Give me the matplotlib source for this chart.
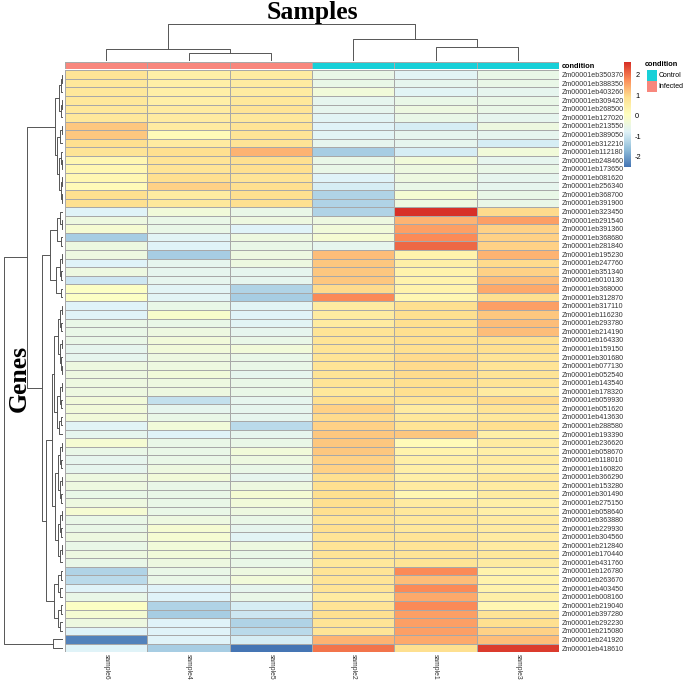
import matplotlib
matplotlib.use("Agg")
import matplotlib.pyplot as plt
import numpy as np
from matplotlib.colors import LinearSegmentedColormap, ListedColormap
from matplotlib.patches import Rectangle

W, H = 685, 683

samples = ["sample6", "sample4", "sample5", "sample2", "sample1", "sample3"]
condition = ["Infected", "Infected", "Infected", "Control", "Control", "Control"]
cond_levels = ["Control", "Infected"]
cond_colors = ["#17D0D8", "#F8877D"]

genes = [
    "Zm00001eb350370", "Zm00001eb388350", "Zm00001eb403260", "Zm00001eb309420",
    "Zm00001eb268500", "Zm00001eb127020", "Zm00001eb213550", "Zm00001eb389050",
    "Zm00001eb312210", "Zm00001eb112180", "Zm00001eb248460", "Zm00001eb173650",
    "Zm00001eb081620", "Zm00001eb256340", "Zm00001eb368700", "Zm00001eb391900",
    "Zm00001eb323450", "Zm00001eb291540", "Zm00001eb391360", "Zm00001eb368680",
    "Zm00001eb281840", "Zm00001eb195230", "Zm00001eb247760", "Zm00001eb351340",
    "Zm00001eb010130", "Zm00001eb368000", "Zm00001eb312870", "Zm00001eb317110",
    "Zm00001eb116230", "Zm00001eb293780", "Zm00001eb214190", "Zm00001eb164330",
    "Zm00001eb159150", "Zm00001eb301680", "Zm00001eb077130", "Zm00001eb052540",
    "Zm00001eb143540", "Zm00001eb178320", "Zm00001eb059930", "Zm00001eb051620",
    "Zm00001eb413630", "Zm00001eb288580", "Zm00001eb193390", "Zm00001eb236620",
    "Zm00001eb058670", "Zm00001eb118010", "Zm00001eb160820", "Zm00001eb366290",
    "Zm00001eb153280", "Zm00001eb301490", "Zm00001eb275150", "Zm00001eb058640",
    "Zm00001eb363880", "Zm00001eb229930", "Zm00001eb304560", "Zm00001eb212840",
    "Zm00001eb170440", "Zm00001eb431760", "Zm00001eb126780", "Zm00001eb263670",
    "Zm00001eb403450", "Zm00001eb008160", "Zm00001eb219040", "Zm00001eb397280",
    "Zm00001eb292230", "Zm00001eb215080", "Zm00001eb241920", "Zm00001eb418610",
]

# row-scaled expression, one list per sample (column order as displayed)
sample6 = [0.8, 0.7, 0.7, 0.7, 0.7, 0.7, 1.2, 1.2, 0.9, 0.8,
           0.3, 0.3, 0.3, 0.2, 0.9, 0.9, -0.8, -0.4, -0.2, -1.4,
           -0.4, -0.4, -0.8, -0.4, -1.0, 0.0, 0.0, -0.8, -0.8, -0.5,
           -0.5, -0.5, -0.6, -0.6, -0.4, -0.4, -0.4, -0.4, -0.3, -0.3,
           -0.3, -0.7, -0.6, -0.2, -0.5, -0.6, -0.6, -0.4, -0.4, -0.5,
           -0.4, -0.2, -0.5, -0.5, -0.4, -0.5, -0.4, -0.5, -1.3, -1.2,
           -0.8, -0.5, 0.0, -0.2, -0.4, -0.8, -2.3, -0.8]
sample4 = [0.5, 0.5, 0.5, 0.5, 0.6, 0.6, 0.6, 0.2, 0.6, 0.9,
           0.8, 0.8, 0.9, 1.1, 0.6, 0.7, -0.3, -0.5, -0.5, -0.7,
           -0.8, -1.4, -0.6, -0.6, -0.6, -0.7, -0.7, -0.5, -0.1, -0.5,
           -0.4, -0.3, -0.3, -0.4, -0.4, -0.3, -0.4, -0.4, -1.1, -0.6,
           -0.5, -0.3, -0.8, -0.5, -0.5, -0.5, -0.4, -0.3, -0.5, -0.5,
           -0.5, -0.5, -0.4, -0.2, -0.2, -0.3, -0.3, -0.4, -0.5, -0.5,
           -0.8, -0.8, -1.3, -1.4, -0.8, -0.8, -0.8, -1.4]
sample5 = [0.6, 0.6, 0.6, 0.7, 0.8, 0.7, 0.8, 0.8, 0.8, 1.4,
           0.9, 0.9, 0.8, 0.9, 0.9, 0.9, -0.5, -0.4, -0.8, -0.4,
           -0.5, -0.4, -0.4, -0.6, -0.6, -1.3, -1.4, -0.7, -0.8, -0.7,
           -0.6, -0.5, -0.3, -0.5, -0.5, -0.6, -0.5, -0.5, -0.6, -0.6,
           -0.6, -1.2, -0.6, -0.5, -0.3, -0.4, -0.5, -0.6, -0.4, -0.2,
           -0.3, -0.4, -0.5, -0.6, -0.7, -0.4, -0.5, -0.5, -0.4, -0.3,
           -0.6, -0.5, -0.9, -1.0, -1.3, -1.2, -0.9, -2.5]
sample2 = [-0.5, -0.5, -0.3, -0.6, -0.6, -0.7, -0.8, -0.7, -0.6, -1.4,
           -0.5, -0.5, -0.8, -0.9, -1.3, -1.3, -1.3, -0.4, -0.3, -0.2,
           -0.6, 1.3, 1.2, 1.2, 1.2, 1.0, 1.8, 0.6, 0.6, 0.6,
           0.8, 0.8, 0.8, 0.8, 0.8, 0.8, 0.8, 0.7, 0.9, 1.1,
           1.0, 1.1, 1.2, 1.2, 1.2, 1.1, 1.1, 0.9, 0.9, 0.9,
           0.9, 0.9, 0.8, 0.9, 0.8, 0.8, 0.8, 0.7, 0.8, 0.8,
           0.8, 0.6, 0.8, 0.9, 0.8, 0.8, 1.4, 2.0]
sample1 = [-0.7, -0.6, -0.7, -0.5, -0.4, -0.5, -0.9, -0.6, -0.6, -0.9,
           -0.3, -0.4, -0.4, -0.5, -0.2, -0.4, 2.65, 1.4, 1.6, 1.8,
           2.1, 0.4, 0.5, 0.4, 0.4, 0.4, 0.3, 0.9, 0.9, 0.9,
           0.9, 0.9, 0.9, 1.0, 1.0, 1.0, 0.9, 0.9, 0.8, 0.6,
           0.7, 0.8, 1.2, 0.2, 0.4, 0.5, 0.5, 0.5, 0.6, 0.3,
           0.6, 0.7, 0.7, 0.7, 0.8, 0.8, 0.8, 0.8, 1.8, 1.3,
           1.8, 1.5, 1.8, 1.6, 1.6, 1.6, 1.5, 0.9]
sample3 = [-0.5, -0.5, -0.6, -0.5, -0.5, -0.6, -0.4, -0.6, -0.9, -0.3,
           -0.6, -0.5, -0.6, -0.6, -0.5, -0.5, 1.0, 1.6, 1.1, 1.1,
           1.1, 1.4, 1.0, 1.1, 1.3, 1.5, 0.9, 1.6, 1.2, 1.3,
           1.3, 0.9, 0.9, 0.8, 0.8, 0.8, 0.8, 0.6, 1.0, 0.8,
           0.7, 0.9, 0.5, 0.6, 0.5, 0.6, 0.5, 0.7, 0.6, 0.6,
           0.5, 0.5, 0.6, 0.6, 0.6, 0.6, 0.7, 0.6, 0.4, 0.4,
           0.4, 0.5, 0.3, 0.8, 0.9, 1.1, 1.3, 2.5]

# dendrograms: (height, left, right), leaves are positions in display order
col_tree = (37.3, (12.3, 0, (8, 1, 2)), (22, 3, (14, 4, 5)))
row_tree = (59,
    (36,
        (8,
            (4, (2, (1, 0, 1), 2), (2.5, (1.2, 3, 4), 5)),
            (6, (3, (1.5, 6, 7), 8),
                (4, (2, 9, (1, 10, 11)), (2.5, (1.2, 12, 13), (1, 14, 15))))),
        (21,
            (13,
                (6, (3, 16, (1.5, 17, 18)), (2.5, 19, 20)),
                (7, (3, (1.5, 21, 22), (2, 23, 24)), (2.5, 25, 26))),
            (17,
                (11,
                    (9, (5, (3, (1.5, 27, 28), (2, 29, 30)),
                            (3.5, (1.5, 31, 32), (2, 33, (1, 34, 35)))),
                        (6, (3, (1.5, 36, 37), (2, 38, 39)), (4, (2, 40, 41), 42))),
                    (8, (5, (3, (1.5, 43, 44), (2, 45, 46)), (3, (1.2, 47, 48), (2, 49, 50))),
                        (5.5, (3, (1.5, 51, 52), (2, 53, 54)), (3.5, (1.5, 55, 56), 57)))),
                (9, (5, (2, 58, 59), (3, 60, 61)), (5.5, (2.5, 62, 63), (3, 64, 65)))))),
    (10, 66, 67))

vmin, vmax = -2.5, 2.65
cmap = LinearSegmentedColormap.from_list(
    "rdylbu", ["#4575B4", "#91BFDB", "#E0F3F8", "#FFFFBF", "#FEE090", "#FC8D59", "#D73027"], N=100)
border = "#A8A8A8"
line_col = "#555555"
lab_font = "Liberation Sans"
title_font = "Liberation Serif"

values = np.array([sample6, sample4, sample5, sample2, sample1, sample3]).T
n_rows, n_cols = values.shape

fig = plt.figure(figsize=(W / 100, H / 100), dpi=100)


def px_axes(x0, y0, x1, y1):
    return fig.add_axes([x0 / W, 1 - y1 / H, (x1 - x0) / W, (y1 - y0) / H])


def draw_tree(ax, node, vertical):
    if not isinstance(node, tuple):
        return node + 0.5, 0
    h, a, b = node
    pa, ha = draw_tree(ax, a, vertical)
    pb, hb = draw_tree(ax, b, vertical)
    xs, ys = [pa, pa, pb, pb], [ha, h, h, hb]
    if vertical:
        ax.plot(xs, ys, color=line_col, lw=0.7)
    else:
        ax.plot(ys, xs, color=line_col, lw=0.7)
    return (pa + pb) / 2, h


# heatmap
hx0, hx1, hy0, hy1 = 65, 559, 70.3, 652.3
ax = px_axes(hx0, hy0, hx1, hy1)
ax.pcolormesh(values, cmap=cmap, vmin=vmin, vmax=vmax, edgecolors=border, linewidth=0.5)
ax.set_xlim(0, n_cols)
ax.set_ylim(n_rows, 0)
ax.yaxis.tick_right()
ax.set_yticks(np.arange(n_rows) + 0.5)
ax.set_yticklabels(genes, fontsize=5.1, family=lab_font, color="#333333")
ax.set_xticks(np.arange(n_cols) + 0.5)
ax.set_xticklabels(samples, fontsize=4.9, family=lab_font, rotation=270, color="#333333")
ax.tick_params(axis="y", length=0, pad=2)
ax.tick_params(axis="x", length=0, pad=1)
for s in ax.spines.values():
    s.set_visible(False)

# annotation bar
ax_ann = px_axes(hx0, 62.3, hx1, 69.3)
cond_idx = np.array([[cond_levels.index(c) for c in condition]])
ax_ann.pcolormesh(cond_idx, cmap=ListedColormap(cond_colors), vmin=0, vmax=1,
                  edgecolors=border, linewidth=0.5)
ax_ann.set_xlim(0, n_cols)
ax_ann.set_ylim(1, 0)
ax_ann.axis("off")
fig.text(562 / W, 1 - 66 / H, "condition", fontsize=5.3, fontweight="bold",
         family=lab_font, va="center", ha="left")

# column dendrogram
ax_cd = px_axes(hx0, 22, hx1, 61)
draw_tree(ax_cd, col_tree, True)
ax_cd.set_xlim(0, n_cols)
ax_cd.set_ylim(0, 39)
ax_cd.axis("off")

# row dendrogram
ax_rd = px_axes(2, hy0, 63, hy1)
draw_tree(ax_rd, row_tree, False)
ax_rd.set_ylim(n_rows, 0)
ax_rd.set_xlim(61, 0)
ax_rd.axis("off")

# colour key
ax_cb = px_axes(624, 61.7, 631, 166.7)
grad = np.linspace(vmin, vmax, 100).reshape(-1, 1)
ax_cb.imshow(grad, cmap=cmap, vmin=vmin, vmax=vmax, origin="lower", aspect="auto",
             extent=[0, 1, vmin, vmax])
ax_cb.set_xticks([])
ax_cb.yaxis.tick_right()
ax_cb.set_yticks([-2, -1, 0, 1, 2])
ax_cb.set_yticklabels(["-2", "-1", "0", "1", "2"], fontsize=5.3, family=lab_font)
ax_cb.tick_params(length=0, pad=3)
for s in ax_cb.spines.values():
    s.set_visible(False)

# condition legend
fig.text(645 / W, 1 - 64 / H, "condition", fontsize=5.3, fontweight="bold",
         family=lab_font, va="center", ha="left")
for i, (lev, col) in enumerate(zip(cond_levels, cond_colors)):
    y0 = 70.5 + i * 11
    fig.add_artist(Rectangle((647 / W, 1 - (y0 + 10) / H), 10 / W, 10 / H,
                             transform=fig.transFigure, facecolor=col, edgecolor="none"))
    fig.text(658.5 / W, 1 - (y0 + 5) / H, lev, fontsize=5.0, family=lab_font,
             va="center", ha="left")

# axis titles
fig.text(312 / W, 1 - 12 / H, "Samples", fontsize=18.5, fontweight="bold",
         family=title_font, ha="center", va="center")
fig.text(19 / W, 1 - 378 / H, "Genes", fontsize=18.5, fontweight="bold",
         family=title_font, ha="center", va="center", rotation=90)

fig.savefig("out.png", dpi=100)
